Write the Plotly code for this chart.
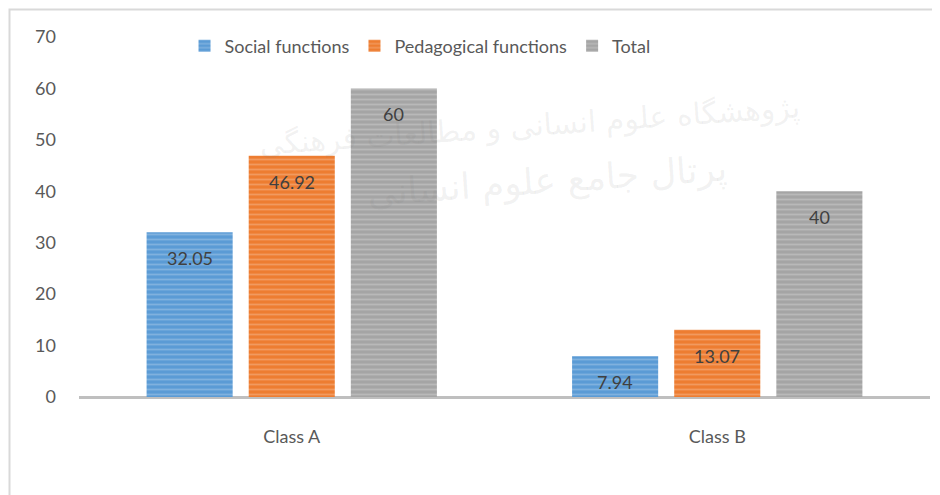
import plotly.graph_objects as go

categories = ["Class A", "Class B"]
series_names = ["Social functions", "Pedagogical functions", "Total"]
social = [32.05, 7.94]
pedagogical = [46.92, 13.07]
total = [60, 40]
y_ticks = [0, 10, 20, 30, 40, 50, 60, 70]

colors = ["#5B9BD5", "#ED7D31", "#A5A5A5"]
values = [social, pedagogical, total]

FONT = "Lato"
W, H = 940, 495
ML, MR, MT, MB = 71, 18, 29, 106
BARGAP, GROUPGAP = 0.28, 0.157
plot_w = W - ML - MR
plot_h = H - MT - MB
slot_px = plot_w / len(categories) * (1 - BARGAP) / len(series_names)

fig = go.Figure()
annotations = []
for i, (name, vals, col) in enumerate(zip(series_names, values, colors)):
    fig.add_trace(go.Bar(
        x=categories, y=vals, name=name,
        marker=dict(color=col, line=dict(width=0),
                    pattern=dict(shape="-", fgcolor="rgba(255,255,255,0.45)",
                                 size=5, solidity=0.35)),
    ))
    for c, v in zip(categories, vals):
        annotations.append(dict(
            x=c, y=v, xref="x", yref="y", text=f"{v:g}", showarrow=False,
            xshift=(i - (len(series_names) - 1) / 2) * slot_px, yshift=-26,
            font=dict(family=FONT, size=18, color="#404040")))

annotations += [
    dict(text="پژوهشگاه علوم انسانی و مطالعات فرهنگی", xref="paper", yref="paper",
         x=0.53, y=0.86, showarrow=False, textangle=-4,
         font=dict(family="DejaVu Sans", size=30, color="rgba(120,120,120,0.10)")),
    dict(text="پرتال جامع علوم انسانی", xref="paper", yref="paper",
         x=0.55, y=0.6, showarrow=False, textangle=-4,
         font=dict(family="DejaVu Sans", size=36, color="rgba(120,120,120,0.10)")),
]

fig.update_layout(
    width=W, height=H,
    margin=dict(l=ML, r=MR, t=MT, b=MB, autoexpand=False),
    paper_bgcolor="white", plot_bgcolor="white",
    barmode="group", bargap=BARGAP, bargroupgap=GROUPGAP,
    font=dict(family=FONT, size=18, color="#595959"),
    showlegend=True,
    legend=dict(orientation="h", x=0.124, xanchor="left", y=0.975, yanchor="middle",
                font=dict(family=FONT, size=18, color="#595959"),
                itemwidth=30, traceorder="normal", bgcolor="rgba(0,0,0,0)"),
    xaxis=dict(showgrid=False, showline=False, zeroline=False, ticks="",
               automargin=False,
               ticklabelstandoff=27, tickfont=dict(size=18, color="#595959")),
    yaxis=dict(range=[0, 70], tickvals=y_ticks, showgrid=False, showline=False,
               automargin=False,
               zeroline=True, zerolinecolor="#BFBFBF", zerolinewidth=3,
               ticks="", ticklabelstandoff=22, tickfont=dict(size=18, color="#595959")),
    shapes=[dict(type="rect", xref="paper", yref="paper",
                 x0=(1.5 - ML) / plot_w, x1=1.2, y0=-0.6, y1=1 + (MT - 1.5) / plot_h,
                 line=dict(color="#D9D9D9", width=2), layer="below")],
    annotations=annotations,
)
fig.write_html("out.html")
